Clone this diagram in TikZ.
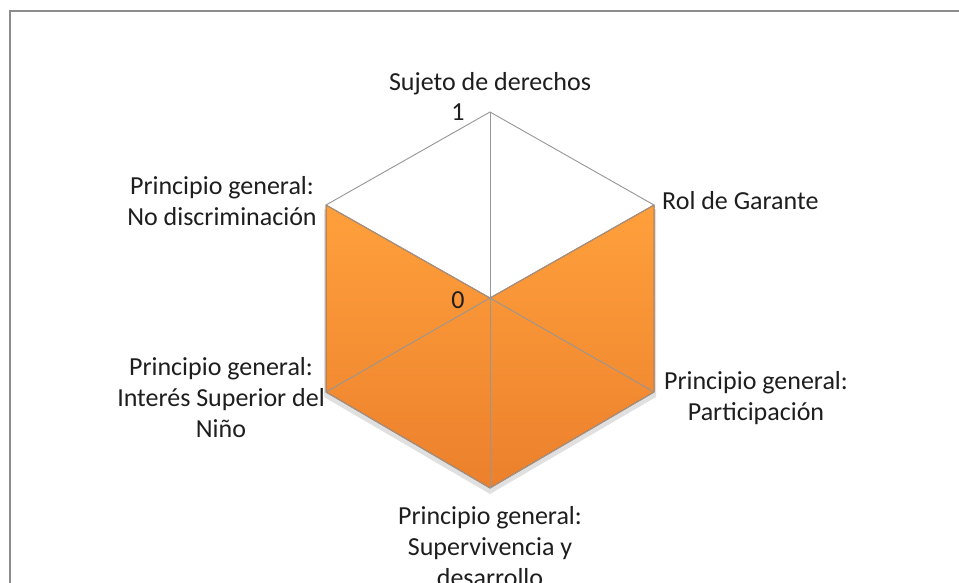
\documentclass[tikz,border=0pt]{standalone}
\usepackage{fontspec}
\setmainfont{Carlito}
\usepackage{xcolor}
\usetikzlibrary{positioning,calc,shadows}
\definecolor{gridgray}{RGB}{150,150,150}
\definecolor{framegray}{RGB}{140,140,140}
\definecolor{radarlight}{RGB}{255,160,60}
\definecolor{radardark}{RGB}{236,128,44}
\definecolor{radaredge}{RGB}{200,105,35}
\definecolor{textgray}{RGB}{30,30,30}

\begin{document}
\begin{tikzpicture}[x=1pt, y=-1pt]
    \tikzstyle{axislabel} = [align=center, text=textgray, font=\fontsize{26}{31}\selectfont, inner sep=0pt]
    \tikzstyle{ticklabel} = [text=textgray, font=\fontsize{26}{31}\selectfont, inner sep=0pt]
    \tikzstyle{spoke} = [draw=gridgray, line width=0.9pt]
    \tikzstyle{radarfill} = [top color=radarlight, bottom color=radardark, draw=radaredge, line width=1pt, line join=round]

    % Canvas and frame
    \useasboundingbox (0,0) rectangle (959,583);
    \clip (0,0) rectangle (959,583);
    \fill[white] (0,0) rectangle (959,583);
    \draw[framegray, line width=2.5pt] (10,11) rectangle (975,600);

    % Axis end points
    \coordinate (c) at (490,298);
    \coordinate (sujeto) at (490,112);
    \coordinate (garante) at (654,205);
    \coordinate (participacion) at (654,392);
    \coordinate (supervivencia) at (490,488);
    \coordinate (interes) at (326,392);
    \coordinate (discriminacion) at (326,205);

    % Data area
    \fill[black, opacity=0.12] ($(c)+(0,4)$) -- ($(garante)+(2,4)$) -- ($(participacion)+(2,5)$) -- ($(supervivencia)+(0,6)$) -- ($(interes)+(-2,5)$) -- ($(discriminacion)+(-2,4)$) -- cycle;
    \path[radarfill] (c) -- (garante) -- (participacion) -- (supervivencia) -- (interes) -- (discriminacion) -- cycle;

    % Grid
    \draw[spoke] (sujeto) -- (garante) -- (participacion) -- (supervivencia) -- (interes) -- (discriminacion) -- cycle;
    \foreach \v in {sujeto,garante,participacion,supervivencia,interes,discriminacion}
        \draw[spoke] (c) -- (\v);

    % Tick labels
    \node[ticklabel] (tick_one) at (458,112) {1};
    \node[ticklabel] (tick_zero) at (458,300) {0};

    % Axis labels
    \node[axislabel] (lbl_sujeto) at (490,84) {Sujeto de derechos};
    \node[axislabel, anchor=west] (lbl_garante) at (662,201) {Rol de Garante};
    \node[axislabel] (lbl_participacion) at (756,398) {Principio general:\\Participación};
    \node[axislabel, anchor=north] (lbl_supervivencia) at (490,506) {Principio general:\\Supervivencia y\\desarrollo};
    \node[axislabel] (lbl_interes) at (221,398) {Principio general:\\Interés Superior del\\Niño};
    \node[axislabel] (lbl_discriminacion) at (222,201) {Principio general:\\No discriminación};
\end{tikzpicture}
\end{document}
